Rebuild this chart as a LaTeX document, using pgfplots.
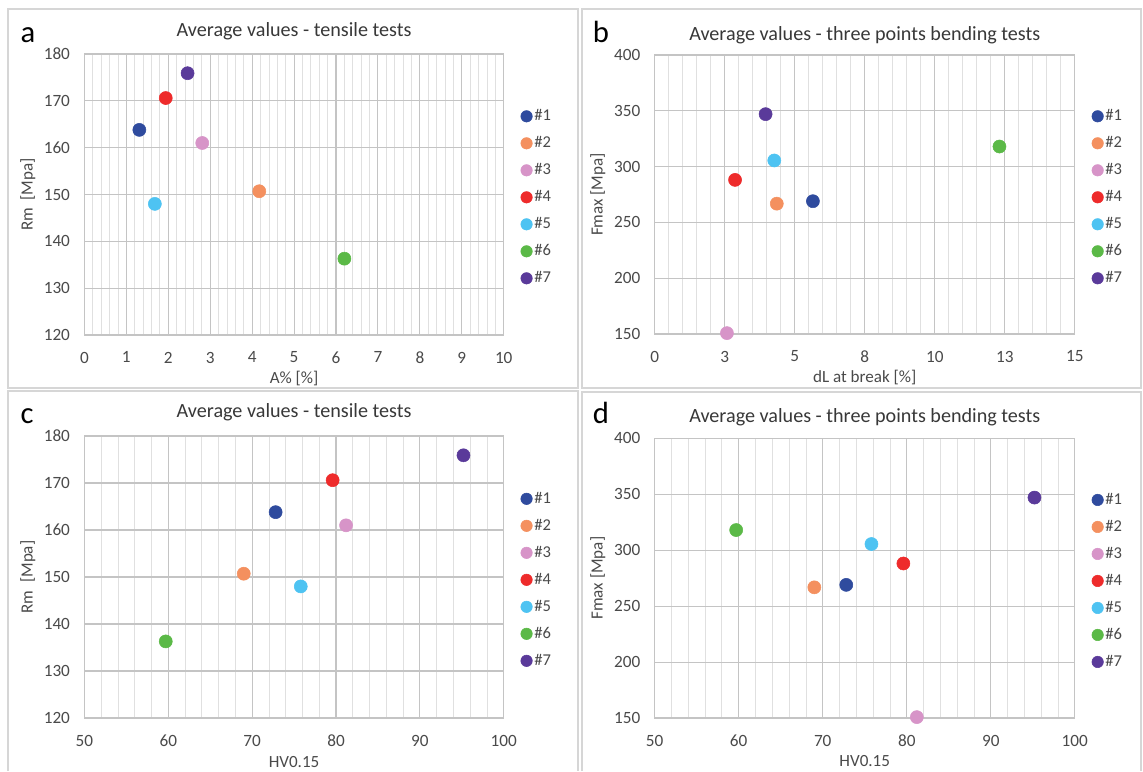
\documentclass[border=0pt]{standalone}
\usepackage{pgfplots}
\pgfplotsset{compat=1.18}
\usepackage{fontspec}
\setmainfont{Carlito}
\definecolor{c1}{HTML}{2F4B9E}
\definecolor{c2}{HTML}{F4905F}
\definecolor{c3}{HTML}{D794C8}
\definecolor{c4}{HTML}{EE2B2B}
\definecolor{c5}{HTML}{4EC3F2}
\definecolor{c6}{HTML}{5BB947}
\definecolor{c7}{HTML}{5A3A9A}
\definecolor{txt}{HTML}{4A4A4A}
\definecolor{ttl}{HTML}{383838}
\definecolor{gmaj}{HTML}{C4C4C4}
\definecolor{gmin}{HTML}{E0E0E0}
\definecolor{frame}{HTML}{D6D6D6}
\pgfplotsset{
  every axis title shift=0pt,
  panel/.style={
    scale only axis,
    width=315pt, height=210pt,
    axis line style={gmaj, line width=0.9pt},
    major tick length=0pt, minor tick length=0pt,
    xmajorgrids, xminorgrids, ymajorgrids,
    major grid style={gmaj, line width=0.8pt},
    minor grid style={gmin, line width=0.6pt},
    minor x tick num=4,
    tick label style={font=\fontsize{12.9}{14}\selectfont, color=txt},
    /pgf/number format/assume math mode=true,
    xticklabel style={yshift=-9.1pt},
    yticklabel style={xshift=-7.3pt},
    label style={font=\fontsize{12.8}{14}\selectfont, color=txt},
    xlabel style={at={(axis description cs:0.5,-0.155)}, anchor=center},
    ylabel style={at={(axis description cs:-0.135,0.5)}, anchor=center},
    title style={font=\fontsize{15.1}{17}\selectfont, color=ttl, anchor=base, at={(axis description cs:0.5,1)}},
    legend style={at={(axis description cs:1.0395,0.49)}, anchor=west, draw=none, fill=none,
      font=\fontsize{12.4}{14}\selectfont, text=txt, row sep=8.65pt, inner sep=0pt,
      nodes={inner sep=1.3pt, text height=8pt, text depth=1pt}},
    legend cell align=left,
    legend image code/.code={\fill (0.15cm,0cm) circle (4.3pt);},
    only marks,
    every axis plot/.append style={mark=*, mark size=4.9pt},
    clip=false,
  },
}
\begin{document}
\begin{tikzpicture}
\begin{scope}[x=0.75pt, y=-0.75pt]
  \fill[white] (0,0) rectangle (1143,770);
  \path[use as bounding box] (0,0) rectangle (1143,770);
  \draw[frame, line width=1.2pt] (8,9) rectangle (578,388);
  \draw[frame, line width=1.2pt] (582,9) rectangle (1141,388);
  \draw[frame, line width=1.2pt] (8,771) -- (8,391) -- (578,391) -- (578,771);
  \draw[frame, line width=1.2pt] (582,771) -- (582,392) -- (1141,392) -- (1141,771);
  \node[anchor=base, font=\fontsize{23}{26}\selectfont] at (28,42) {a};
  \node[anchor=base, font=\fontsize{23}{26}\selectfont] at (601,42) {b};
  \node[anchor=base, font=\fontsize{23}{26}\selectfont] at (27,423) {c};
  \node[anchor=base, font=\fontsize{23}{26}\selectfont] at (601,423) {d};
\end{scope}

% ---- a ----
\begin{axis}[panel, at={(63.3pt,-251.25pt)}, anchor=south west,
  width=314.5pt, height=210.75pt,
  xmin=0, xmax=10, ymin=120, ymax=180,
  xtick={0,1,...,10}, ytick={120,130,...,180},
  title={Average values - tensile tests}, title style={yshift=13.5pt},
  xlabel={A\% [\%]}, ylabel={Rm~~[Mpa]}]
\addplot[c1] coordinates {(1.31,163.8)}; \addlegendentry{\#1}
\addplot[c2] coordinates {(4.17,150.7)}; \addlegendentry{\#2}
\addplot[c3] coordinates {(2.81,161.0)}; \addlegendentry{\#3}
\addplot[c4] coordinates {(1.94,170.6)}; \addlegendentry{\#4}
\addplot[c5] coordinates {(1.68,148.0)}; \addlegendentry{\#5}
\addplot[c6] coordinates {(6.20,136.3)}; \addlegendentry{\#6}
\addplot[c7] coordinates {(2.46,175.9)}; \addlegendentry{\#7}
\end{axis}

% ---- b ----
\begin{axis}[panel, at={(491pt,-250.5pt)}, anchor=south west,
  width=315.1pt, height=209.25pt,
  xmin=0, xmax=15, ymin=150, ymax=400,
  xtick={0,2.5,5,7.5,10,12.5,15}, xticklabels={0,3,5,8,10,13,15},
  ytick={150,200,...,400},
  title={Average values - three points bending tests}, title style={yshift=10.7pt},
  xlabel={dL at break [\%]}, ylabel={Fmax [Mpa]}]
\addplot[c1] coordinates {(5.65,269.0)}; \addlegendentry{\#1}
\addplot[c2] coordinates {(4.36,266.8)}; \addlegendentry{\#2}
\addplot[c3] coordinates {(2.58,150.8)}; \addlegendentry{\#3}
\addplot[c4] coordinates {(2.87,288.1)}; \addlegendentry{\#4}
\addplot[c5] coordinates {(4.27,305.5)}; \addlegendentry{\#5}
\addplot[c6] coordinates {(12.31,318.0)}; \addlegendentry{\#6}
\addplot[c7] coordinates {(3.96,347.0)}; \addlegendentry{\#7}
\end{axis}

% ---- c ----
\begin{axis}[panel, at={(63.3pt,-538.5pt)}, anchor=south west,
  width=314.5pt, height=211.5pt,
  xmin=50, xmax=100, ymin=120, ymax=180,
  xtick={50,60,...,100}, ytick={120,130,...,180},
  title={Average values - tensile tests}, title style={yshift=14pt},
  xlabel={HV0.15}, ylabel={Rm~~[Mpa]}]
\addplot[c1] coordinates {(72.8,163.8)}; \addlegendentry{\#1}
\addplot[c2] coordinates {(69.0,150.7)}; \addlegendentry{\#2}
\addplot[c3] coordinates {(81.2,161.0)}; \addlegendentry{\#3}
\addplot[c4] coordinates {(79.6,170.6)}; \addlegendentry{\#4}
\addplot[c5] coordinates {(75.8,148.0)}; \addlegendentry{\#5}
\addplot[c6] coordinates {(59.7,136.3)}; \addlegendentry{\#6}
\addplot[c7] coordinates {(95.2,175.9)}; \addlegendentry{\#7}
\end{axis}

% ---- d ----
\begin{axis}[panel, at={(491pt,-538.5pt)}, anchor=south west,
  width=315.1pt, height=209.8pt,
  xmin=50, xmax=100, ymin=150, ymax=400,
  xtick={50,60,...,100}, ytick={150,200,...,400},
  title={Average values - three points bending tests}, title style={yshift=11.7pt},
  xlabel={HV0.15}, ylabel={Fmax [Mpa]}]
\addplot[c1] coordinates {(72.8,269.0)}; \addlegendentry{\#1}
\addplot[c2] coordinates {(69.0,266.8)}; \addlegendentry{\#2}
\addplot[c3] coordinates {(81.2,150.8)}; \addlegendentry{\#3}
\addplot[c4] coordinates {(79.6,288.1)}; \addlegendentry{\#4}
\addplot[c5] coordinates {(75.8,305.5)}; \addlegendentry{\#5}
\addplot[c6] coordinates {(59.7,318.0)}; \addlegendentry{\#6}
\addplot[c7] coordinates {(95.2,347.0)}; \addlegendentry{\#7}
\end{axis}
\end{tikzpicture}
\end{document}
